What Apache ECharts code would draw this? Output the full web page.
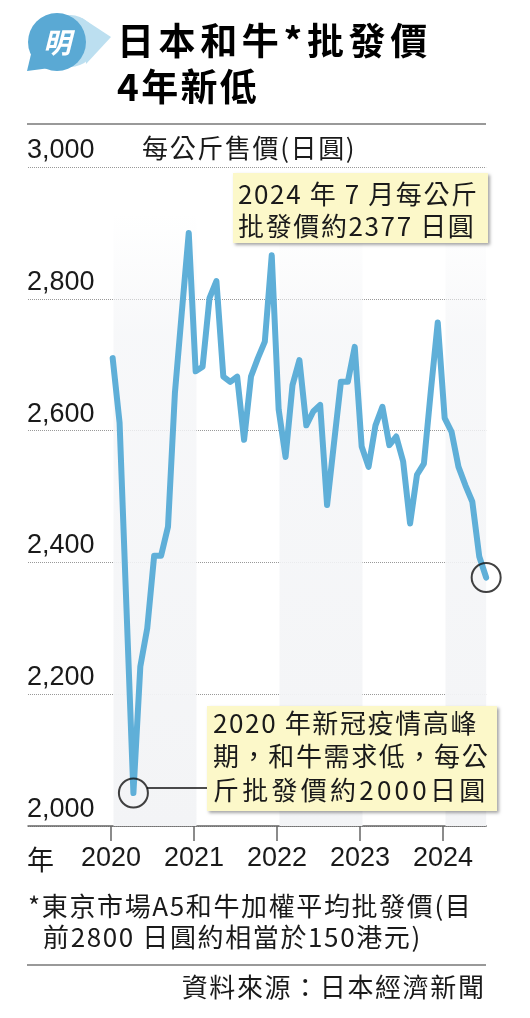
<!DOCTYPE html>
<html>
<head>
<meta charset="utf-8">
<script src="https://cdn.jsdelivr.net/npm/echarts@6/dist/echarts.min.js"></script>
<style>
html,body{margin:0;padding:0;background:#fff;}
#chart{width:530px;height:1018px;}
</style>
</head>
<body>
<div id="chart"></div>
<script>
// ---- data (monthly wholesale price, yen per kg) ----
const years = [2020, 2021, 2022, 2023, 2024];
const price2020 = [2710, 2612, 2330, 2050, 2242, 2300, 2410, 2410, 2454, 2657, 2780, 2900];
const price2021 = [2690, 2697, 2801, 2827, 2682, 2674, 2682, 2586, 2682, 2710, 2735, 2866];
const price2022 = [2632, 2560, 2669, 2707, 2608, 2629, 2639, 2487, 2581, 2674, 2674, 2727];
const price2023 = [2576, 2545, 2608, 2636, 2578, 2591, 2553, 2459, 2533, 2550, 2660, 2764];
const price2024 = [2619, 2598, 2545, 2517, 2492, 2409, 2377];
const yTicks = [2000, 2200, 2400, 2600, 2800, 3000];
const yearLabels = ['2020', '2021', '2022', '2023', '2024'];
const shadedYears = [2020, 2022, 2024];

const FONT = "'Liberation Sans','Noto Sans CJK TC',sans-serif";
const CJK = "'Noto Sans CJK TC','Liberation Sans',sans-serif";

const byYear = [price2020, price2021, price2022, price2023, price2024];
const seriesData = [];
byYear.forEach((arr, yi) => {
  arr.forEach((v, m) => seriesData.push([years[yi] + m / 12 + 0.02, v]));
});
// highlighted points: lowest (2020 pandemic) and latest
let minPt = seriesData[0];
seriesData.forEach(p => { if (p[1] < minPt[1]) minPt = p; });
const lastPt = seriesData[seriesData.length - 1];

const chart = echarts.init(document.getElementById('chart'), null, {renderer: 'canvas'});

const bandData = shadedYears.map(y => [
  {xAxis: y + 0.03, yAxis: 2000},
  {xAxis: Math.min(y + 1.03, 2024.52), yAxis: 2930}
]);

// zrender has no letter-spacing: widen text with hair spaces between glyphs
const sp = (s, k) => Array.from(s).join('\u200A'.repeat(k));

const T = (x, y, text, extra) => ({
  type: 'text', x: x, y: y, z: 100,
  style: Object.assign({text: text, fill: '#1a1a1a', fontFamily: CJK, fontSize: 26, verticalAlign: 'middle'}, extra || {})
});
const boxStyle = {fill: '#fcf8c9', shadowBlur: 3, shadowOffsetX: 2, shadowOffsetY: 2, shadowColor: 'rgba(0,0,0,0.35)'};

const option = {
  animation: false,
  backgroundColor: '#fff',
  grid: {left: 28, top: 167, width: 458.16, height: 659},
  xAxis: {
    type: 'value', min: 2019, max: 2024.52, interval: 1,
    axisLine: {show: true, lineStyle: {color: '#666', width: 1.5}},
    axisTick: {show: true, length: 15, customValues: years, lineStyle: {color: '#666', width: 1.5}},
    axisLabel: {
      customValues: years, margin: 19, fontSize: 27, color: '#1a1a1a', fontFamily: FONT,
      formatter: v => yearLabels[years.indexOf(Math.round(v))] || ''
    },
    splitLine: {show: false}
  },
  yAxis: {
    type: 'value', min: yTicks[0], max: yTicks[yTicks.length - 1], interval: 200,
    axisLine: {show: false}, axisTick: {show: false},
    axisLabel: {
      inside: true, margin: -1, align: 'left', verticalAlign: 'bottom', padding: [0, 0, 3, 0],
      fontSize: 27, color: '#1a1a1a', fontFamily: FONT,
      formatter: v => v.toLocaleString('en-US')
    },
    splitLine: {show: true, lineStyle: {type: 'dotted', color: '#999', width: 1}}
  },
  series: [
    {
      type: 'line', data: seriesData, symbol: 'none', clip: false, z: 3,
      lineStyle: {color: '#5fafd8', width: 6, join: 'round', cap: 'round'},
      markArea: {
        silent: true,
        itemStyle: {
          color: new echarts.graphic.LinearGradient(0, 0, 0, 1, [
            {offset: 0, color: 'rgba(245,246,248,0)'},
            {offset: 0.2, color: 'rgba(245,246,248,0.8)'},
            {offset: 1, color: '#f3f4f6'}
          ])
        },
        data: bandData
      }
    },
    {
      type: 'scatter', data: [minPt, lastPt], symbol: 'circle', symbolSize: 29, clip: false, z: 4,
      itemStyle: {color: 'rgba(0,0,0,0)', borderColor: '#111', borderWidth: 2}
    }
  ],
  graphic: [
    // logo
    {type: 'circle', z: 100, shape: {cx: 70, cy: 41, r: 26}, style: {fill: '#bcdff0'}},
    {type: 'polygon', z: 100, shape: {points: [[82, 18], [111, 37], [86, 64]]}, style: {fill: '#bcdff0'}},
    {type: 'circle', z: 101, shape: {cx: 57, cy: 42, r: 29}, style: {fill: '#5aa9d4'}},
    {type: 'polygon', z: 101, shape: {points: [[27, 71], [32, 50], [50, 68]]}, style: {fill: '#5aa9d4'}},
    {type: 'text', z: 102, x: 57, y: 42, style: {text: '明', fill: '#fff', font: 'italic bold 28px "Noto Sans CJK TC"', align: 'center', verticalAlign: 'middle'}},
    // title
    T(117, 41, sp('日本和牛*批發價', 2), {fill: '#000', fontSize: 37, fontWeight: 'bold'}),
    T(117, 87, sp('4年新低', 1), {fill: '#000', fontSize: 37, fontWeight: 'bold'}),
    // rules
    {type: 'line', z: 100, shape: {x1: 27, y1: 124, x2: 486, y2: 124}, style: {stroke: '#777', lineWidth: 1.5}},
    {type: 'line', z: 100, shape: {x1: 27, y1: 965, x2: 486, y2: 965}, style: {stroke: '#777', lineWidth: 1.5}},
    // axis unit text
    T(142, 148, sp('每公斤售價(日圓)', 1)),
    T(27, 860, '年', {fontSize: 27}),
    // annotation 1
    {type: 'rect', z: 100, shape: {x: 233, y: 173, width: 255, height: 70}, style: boxStyle},
    T(238, 194, sp('2024 年 7 月每公斤', 1)),
    T(238, 226, sp('批發價約2377 日圓', 1)),
    // annotation 2
    {type: 'line', z: 100, shape: {x1: 147, y1: 788, x2: 207, y2: 788}, style: {stroke: '#111', lineWidth: 1.5}},
    {type: 'rect', z: 100, shape: {x: 207, y: 706, width: 290, height: 105}, style: boxStyle},
    T(213, 723, sp('2020 年新冠疫情高峰', 1)),
    T(213, 756, sp('期，和牛需求低，每公', 1)),
    T(213, 790, sp('斤批發價約2000日圓', 2)),
    // footnote
    T(28, 906, sp('*東京市場A5和牛加權平均批發價(目', 1)),
    T(43, 937, sp('前2800 日圓約相當於150港元)', 1)),
    T(484, 987, sp('資料來源：日本經濟新聞', 1), {align: 'right'})
  ]
};
chart.setOption(option);
</script>
</body>
</html>
